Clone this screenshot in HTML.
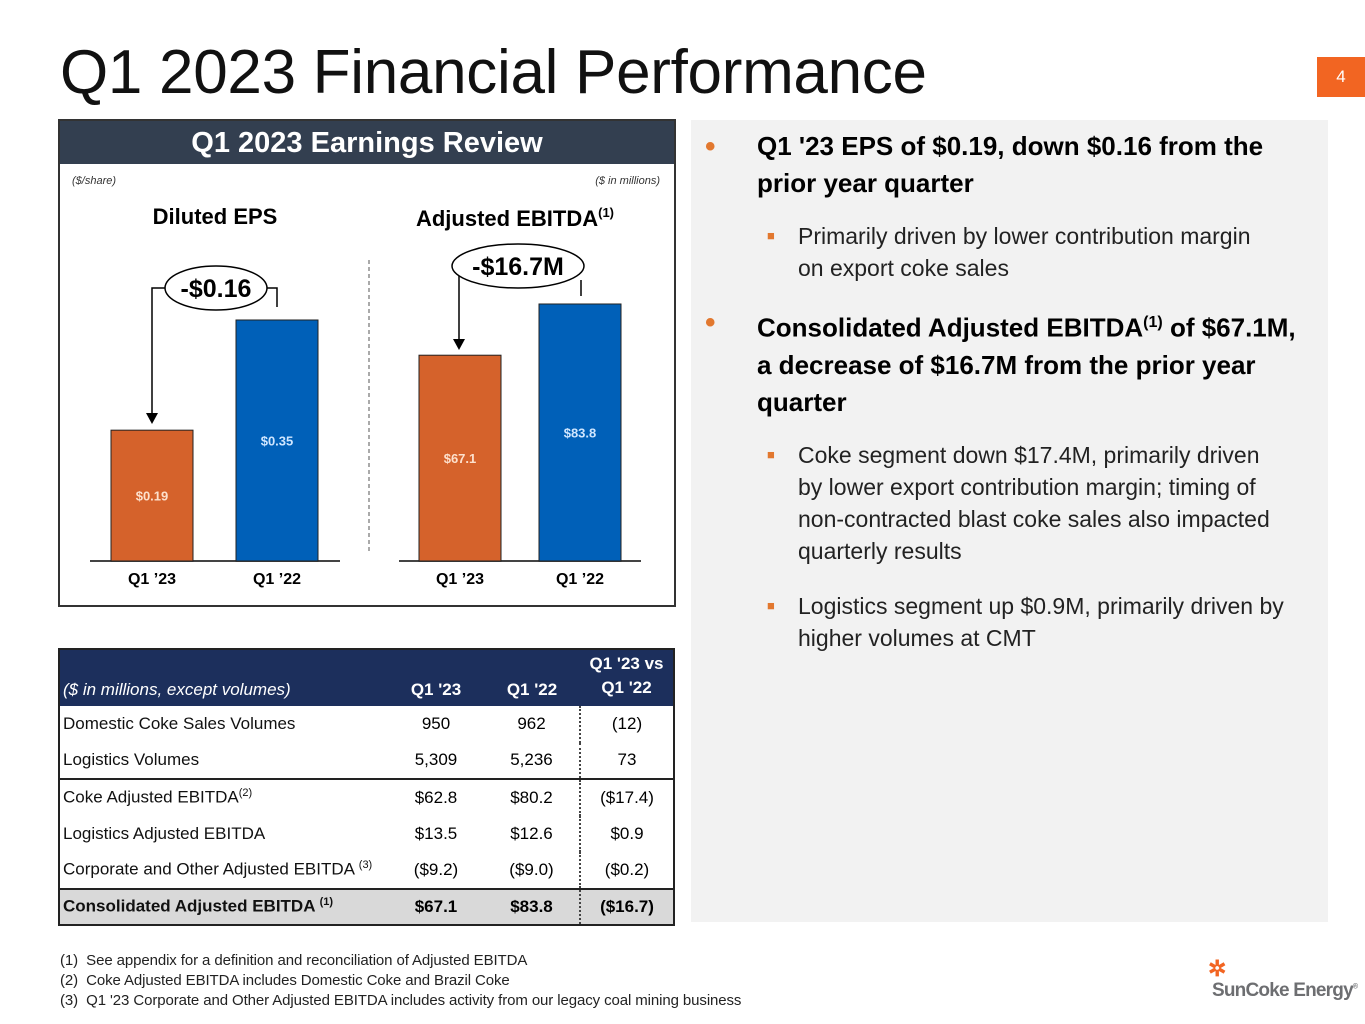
<!DOCTYPE html>
<html><head><meta charset="utf-8"><style>
*{margin:0;padding:0;box-sizing:border-box}
body{width:1365px;height:1024px;background:#fff;font-family:"Liberation Sans",Carlito,sans-serif;position:relative;overflow:hidden;color:#000}
.abs{position:absolute}
table{border-collapse:collapse}
.b{font-weight:bold}
.mb{position:relative;padding-left:52px;font-size:26px;font-weight:bold;line-height:37px;width:600px}
.mb .dot{position:absolute;left:0;top:0;color:#e2782f;font-size:30px}
.sb{position:relative;padding-left:93px;font-size:23px;line-height:32px;color:#222;width:585px}
.sb .sq{position:absolute;left:62px;top:0;color:#e2782f;font-size:13px}
</style></head><body>
<div class="abs" style="left:60px;top:37px;font-size:62px;color:#111;letter-spacing:-0.3px">Q1 2023 Financial Performance</div>
<div class="abs" style="left:1317px;top:57px;width:48px;height:40px;background:#f26522;color:#fff;font-size:17px;text-align:center;line-height:40px">4</div>

<div class="abs" style="left:58px;top:119px;width:618px;height:488px;border:2px solid #333;">
<div style="height:43px;background:#333f50;color:#fff;font-weight:bold;font-size:29px;text-align:center;line-height:44px">Q1 2023 Earnings Review</div>
</div>
<svg class="abs" style="left:0;top:0" width="700" height="620" id="chart">
<text x="72" y="184" font-size="11" font-style="italic" fill="#333">($/share)</text>
<text x="660" y="184" font-size="11" font-style="italic" fill="#333" text-anchor="end">($ in millions)</text>
<text x="215" y="224" font-size="22" font-weight="bold" text-anchor="middle">Diluted EPS</text>
<text x="515" y="226" font-size="22" font-weight="bold" text-anchor="middle">Adjusted EBITDA<tspan dy="-9" font-size="13">(1)</tspan></text>
<line x1="369" y1="260" x2="369" y2="552" stroke="#555" stroke-dasharray="4,3"/>
<g id="marks"></g>
<polyline points="165,288 152,288 152,414" fill="none" stroke="#000" stroke-width="1.5"/>
<polygon points="146,413 158,413 152,424" fill="#000"/>
<polyline points="266,288 277,288 277,307" fill="none" stroke="#000" stroke-width="1.5"/>
<ellipse cx="216" cy="288" rx="51" ry="22" fill="#fff" stroke="#000" stroke-width="1.5"/>
<text x="216" y="297" font-size="25" font-weight="bold" text-anchor="middle">-$0.16</text>
<polyline points="459,272 459,340" fill="none" stroke="#000" stroke-width="1.5"/>
<polygon points="453,339 465,339 459,350" fill="#000"/>
<polyline points="581,280 581,296" fill="none" stroke="#000" stroke-width="1.5"/>
<ellipse cx="518" cy="266" rx="66" ry="22" fill="#fff" stroke="#000" stroke-width="1.5"/>
<text x="518" y="275" font-size="25" font-weight="bold" text-anchor="middle">-$16.7M</text>
</svg>

<div class="abs" style="left:58px;top:648px;width:617px;border:2px solid #222;">
<table style="width:100%;font-size:17px">
<tr style="background:#1c2f5c;color:#fff;height:56px">
<td style="vertical-align:bottom;padding:0 0 6px 3px;font-style:italic;width:328px">($ in millions, except volumes)</td>
<td class="b" style="vertical-align:bottom;text-align:center;padding-bottom:6px;width:96px">Q1 '23</td>
<td class="b" style="vertical-align:bottom;text-align:center;padding-bottom:6px;width:96px">Q1 '22</td>
<td class="b" style="vertical-align:bottom;text-align:center;padding-bottom:6px;line-height:24px">Q1 '23 vs<br>Q1 '22</td></tr>
<tbody id="tb"></tbody>
</table></div>

<div class="abs" style="left:691px;top:120px;width:637px;height:802px;background:#f2f2f2"></div>
<div class="abs" style="left:705px;top:128px;width:615px">
<div class="mb"><span class="dot">•</span>Q1 '23 EPS of $0.19, down $0.16 from the prior year quarter</div>
<div class="sb" style="margin-top:18px;width:570px"><span class="sq">■</span>Primarily driven by lower contribution margin on export coke sales</div>
<div class="mb" style="margin-top:20px"><span class="dot">•</span>Consolidated Adjusted EBITDA<sup style="font-size:16px">(1)</sup> of $67.1M, a decrease of $16.7M from the prior year quarter</div>
<div class="sb" style="margin-top:18px"><span class="sq">■</span>Coke segment down $17.4M, primarily driven by lower export contribution margin; timing of non-contracted blast coke sales also impacted quarterly results</div>
<div class="sb" style="margin-top:23px"><span class="sq">■</span>Logistics segment up $0.9M, primarily driven by higher volumes at CMT</div>
</div>

<div class="abs" style="left:60px;top:951px;font-size:15px;line-height:20px;color:#222;letter-spacing:-0.1px">
<div>(1)&nbsp; See appendix for a definition and reconciliation of Adjusted EBITDA</div>
<div>(2)&nbsp; Coke Adjusted EBITDA includes Domestic Coke and Brazil Coke</div>
<div>(3)&nbsp; Q1 '23 Corporate and Other Adjusted EBITDA includes activity from our legacy coal mining business</div>
</div>
<div class="abs" style="left:1212px;top:958px;color:#6d6e71;font-size:19px;font-weight:bold;letter-spacing:-0.8px">
<div style="color:#f26522;font-size:22px;line-height:22px;margin-left:-4px">✲</div>SunCoke Energy<sup style="font-size:7px">®</sup></div>

<script>
var epsCategories=["Q1 \u201923","Q1 \u201922"];
var epsValues=[0.19,0.35];
var epsLabels=["$0.19","$0.35"];
var ebitdaCategories=["Q1 \u201923","Q1 \u201922"];
var ebitdaValues=[67.1,83.8];
var ebitdaLabels=["$67.1","$83.8"];
var barColors=["#d5622b","#0060b8"];
var rowLabels=["Domestic Coke Sales Volumes","Logistics Volumes","Coke Adjusted EBITDA<sup style='font-size:11px'>(2)</sup>","Logistics Adjusted EBITDA","Corporate and Other Adjusted EBITDA <sup style='font-size:11px'>(3)</sup>","Consolidated Adjusted EBITDA <sup style='font-size:11px'>(1)</sup>"];
var rowQ123=["950","5,309","$62.8","$13.5","($9.2)","$67.1"];
var rowQ122=["962","5,236","$80.2","$12.6","($9.0)","$83.8"];
var rowDiff=["(12)","73","($17.4)","$0.9","($0.2)","($16.7)"];

var NS="http://www.w3.org/2000/svg";
var g=document.getElementById('marks');
function mk(t,a){var e=document.createElementNS(NS,t);for(var k in a)e.setAttribute(k,a[k]);g.appendChild(e);return e;}
var base=561;
function yEps(v){return base-v*688.6;}
function yEb(v){return base-v*3.067;}
function drawChart(cats,vals,labels,xs,yf,ax0,ax1,pref){
  var ax=mk('line',{x1:ax0,y1:base,x2:ax1,y2:base,stroke:'#444','stroke-width':2});
  
  
  for(var i=0;i<vals.length;i++){
    var y=yf(vals[i]);
    var r=mk('rect',{x:xs[i],y:y,width:82,height:base-y,fill:barColors[i],stroke:'#222','stroke-width':1});
    
    
    var t=mk('text',{x:xs[i]+41,y:(y+base)/2+5,'font-size':13,'font-weight':'bold','text-anchor':'middle',fill:i==0?'#fde0cc':'#cfe6ff'});
    t.textContent=labels[i];
    
    
    var c=mk('text',{x:xs[i]+41,y:584,'font-size':16,'font-weight':'bold','text-anchor':'middle'});
    c.textContent=cats[i];
    
    
  }
}
drawChart(epsCategories,epsValues,epsLabels,[111,236],yEps,90,340,'eps');
drawChart(ebitdaCategories,ebitdaValues,ebitdaLabels,[419,539],yEb,399,641,'ebitda');

var tb=document.getElementById('tb');
for(var i=0;i<rowLabels.length;i++){
  var tr=document.createElement('tr');
  
  
  var last=i==5;
  tr.style.height=(last?35:36.5)+'px';
  if(last){tr.style.background='#d9d9d9';tr.style.fontWeight='bold';tr.style.borderTop='2px solid #222';}
  if(i==2)tr.style.borderTop='2px solid #222';
  tr.innerHTML="<td style='padding-left:3px;color:#111'>"+rowLabels[i]+"</td><td style='text-align:center'>"+rowQ123[i]+"</td><td style='text-align:center;border-right:2px dotted #444'>"+rowQ122[i]+"</td><td style='text-align:center'>"+rowDiff[i]+"</td>";
  tb.appendChild(tr);
}
</script>
</body></html>
